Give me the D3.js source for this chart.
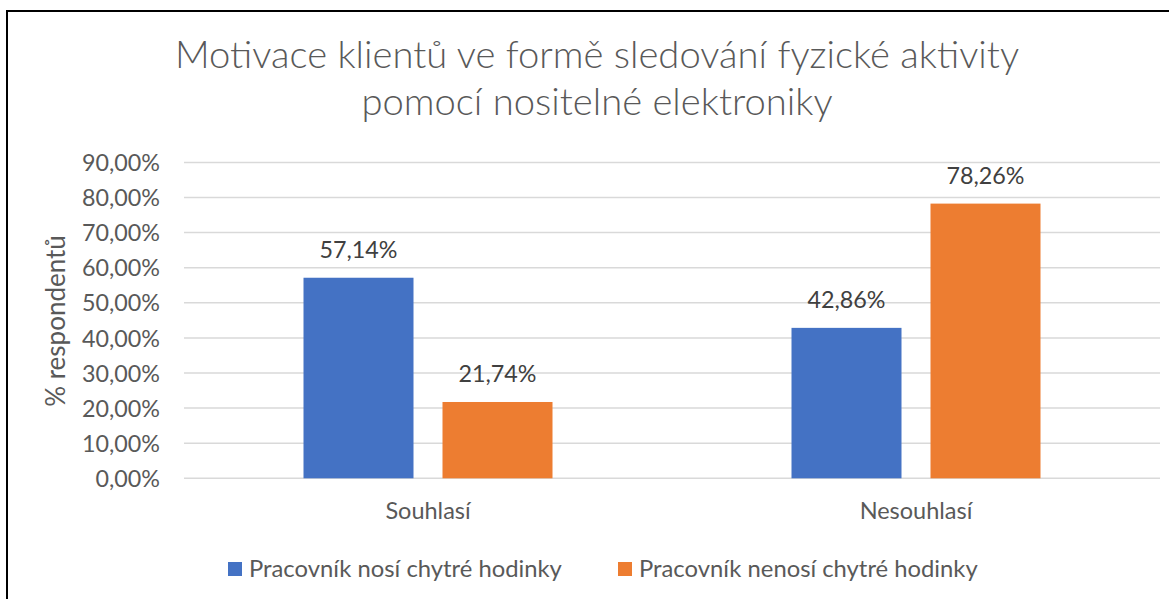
<!DOCTYPE html>
<html>
<head>
<meta charset="utf-8">
<script src="https://cdn.jsdelivr.net/npm/d3@7"></script>
<style>
  html, body { margin: 0; padding: 0; background: #fff; }
  svg { display: block; font-family: Lato, "Open Sans", sans-serif; }
</style>
</head>
<body>
<svg id="chart" width="1169" height="599"></svg>
<script>
const titleLines = ["Motivace klientů ve formě sledování fyzické aktivity", "pomocí nositelné elektroniky"];
const categories = ["Souhlasí", "Nesouhlasí"];
const seriesNames = ["Pracovník nosí chytré hodinky", "Pracovník nenosí chytré hodinky"];
const seriesWears = [57.14, 42.86];
const seriesNotWears = [21.74, 78.26];
const yTicks = [0, 10, 20, 30, 40, 50, 60, 70, 80, 90];
const yAxisTitle = "% respondentů";
const colors = ["#4472C4", "#ED7D31"];

const svg = d3.select("#chart");
const W = 1169, H = 599;
const margin = { left: 184, right: 9, top: 162.4, bottom: 120.7 };
const plotBottom = H - margin.bottom;

// border
svg.append("rect").attr("x", 7).attr("y", 11).attr("width", W + 10).attr("height", H + 10)
  .attr("fill", "none").attr("stroke", "#000").attr("stroke-width", 2);

const x0 = d3.scaleBand().domain(categories).range([margin.left, W - margin.right]).paddingInner(0).paddingOuter(0);
const x1 = d3.scaleBand().domain([0, 1]).range([119.5, x0.bandwidth() - 119.5]).paddingInner(29 / 249 * 2 / (1 + 29/249)).paddingOuter(0);
const y = d3.scaleLinear().domain([0, 90]).range([plotBottom, margin.top]);

const fmt = v => d3.format(".2f")(v).replace(".", ",") + "%";

// gridlines
svg.append("g").selectAll("line").data(yTicks).join("line")
  .attr("x1", margin.left).attr("x2", W - margin.right)
  .attr("y1", d => y(d)).attr("y2", d => y(d))
  .attr("stroke", "#d9d9d9").attr("stroke-width", 1.5);

// y axis labels
const yAxis = d3.axisLeft(y).tickValues(yTicks).tickFormat(fmt).tickSize(0).tickPadding(0);
const gy = svg.append("g").attr("transform", `translate(160,0)`).call(yAxis);
gy.select(".domain").remove();
gy.selectAll("text").attr("font-family", "Lato, sans-serif").attr("font-size", 23.3).attr("fill", "#595959").attr("dy", "0.35em");

// x axis labels
const xAxis = d3.axisBottom(x0).tickSize(0).tickPadding(0);
const gx = svg.append("g").attr("transform", `translate(0,${plotBottom})`).call(xAxis);
gx.select(".domain").remove();
gx.selectAll("text").attr("font-family", "Lato, sans-serif").attr("font-size", 23.5).attr("fill", "#595959").attr("dy", null).attr("y", 41);

// bars
const series = [seriesWears, seriesNotWears];
const rows = categories.map((c, i) => ({ cat: c, vals: series.map((s, j) => ({ j, v: s[i] })) }));
const groups = svg.append("g").selectAll("g").data(rows).join("g")
  .attr("transform", d => `translate(${x0(d.cat)},0)`);
groups.selectAll("rect").data(d => d.vals).join("rect")
  .attr("x", d => x1(d.j)).attr("width", x1.bandwidth())
  .attr("y", d => y(d.v)).attr("height", d => y(0) - y(d.v))
  .attr("fill", d => colors[d.j]);
groups.selectAll("text").data(d => d.vals).join("text")
  .attr("x", d => x1(d.j) + x1.bandwidth() / 2)
  .attr("y", d => y(d.v) - 19.5)
  .attr("text-anchor", "middle").attr("font-size", 23.3).attr("fill", "#404040")
  .text(d => fmt(d.v));

// title
svg.append("g").selectAll("text").data(titleLines).join("text")
  .attr("x", 597).attr("y", (d, i) => 68 + i * 47)
  .attr("text-anchor", "middle").attr("font-size", 38.2).attr("font-weight", 300).attr("fill", "#595959")
  .text(d => d);

// y axis title
svg.append("text").attr("transform", "translate(65,321) rotate(-90)")
  .attr("text-anchor", "middle").attr("font-size", 26).attr("fill", "#595959").text(yAxisTitle);

// legend
const legendX = [228, 618];
const lg = svg.append("g").selectAll("g").data(seriesNames).join("g")
  .attr("transform", (d, i) => `translate(${legendX[i]},0)`);
lg.append("rect").attr("x", 0).attr("y", 562).attr("width", 14).attr("height", 14).attr("fill", (d, i) => colors[i]);
lg.append("text").attr("x", 21).attr("y", 577).attr("font-size", 23.8).attr("fill", "#595959").text(d => d);
</script>
</body>
</html>
